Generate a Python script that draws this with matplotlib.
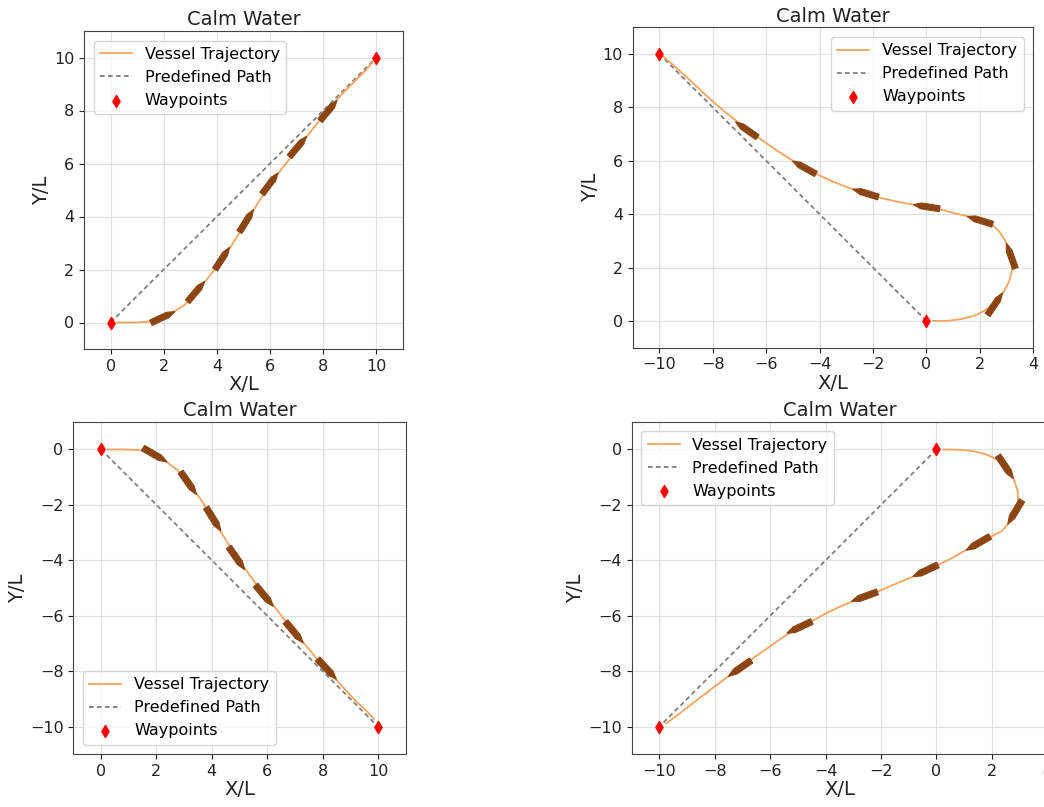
import numpy as np
import matplotlib
matplotlib.use("Agg")
import matplotlib.pyplot as plt
from matplotlib.patches import Polygon

# ---------------- data ----------------
# Panel 1 (top-left): (0,0) -> (10,10)
tl_wp_x = [0, 10]
tl_wp_y = [0, 10]
tl_traj_x = [0.25, 0.8, 1.3, 1.6, 2.0, 2.4, 2.8, 3.2, 3.6, 4.0, 4.4, 4.8, 5.2, 5.6, 6.0, 6.4, 6.8, 7.2, 7.6, 8.0, 8.4, 8.8, 9.2, 9.6, 9.85]
tl_traj_y = [0.0, 0.0, 0.02, 0.06, 0.22, 0.42, 0.68, 1.12, 1.6, 2.1, 2.68, 3.3, 3.95, 4.6, 5.22, 5.75, 6.25, 6.78, 7.3, 7.8, 8.28, 8.72, 9.12, 9.52, 9.82]
tl_ship_x = [1.97, 3.22, 4.2, 5.11, 6.0, 7.05, 8.2]
tl_ship_y = [0.2, 1.17, 2.42, 3.84, 5.25, 6.64, 8.0]
tl_ship_psi = [25, 50, 57, 58, 53, 50, 50]

# Panel 2 (top-right): (0,0) -> (-10,10)
tr_wp_x = [0, -10]
tr_wp_y = [0, 10]
tr_traj_x = [0.25, 0.8, 1.3, 1.8, 2.2, 2.6, 2.9, 3.1, 3.2, 3.2, 3.14, 2.98, 2.75, 2.5, 2.0, 1.5, 1.0, 0.5, 0.0, -0.5, -1.0, -1.5, -2.0, -2.5, -3.0, -3.5, -4.0, -4.5, -5.0, -5.5, -6.0, -6.5, -7.0, -7.5, -8.0, -8.5, -9.0, -9.5, -9.85]
tr_traj_y = [0.0, 0.01, 0.07, 0.2, 0.4, 0.7, 1.1, 1.5, 1.9, 2.2, 2.5, 2.95, 3.32, 3.58, 3.8, 3.93, 4.05, 4.18, 4.28, 4.36, 4.45, 4.56, 4.68, 4.84, 5.02, 5.22, 5.45, 5.72, 6.0, 6.32, 6.66, 7.02, 7.4, 7.8, 8.22, 8.68, 9.15, 9.6, 9.9]
tr_ship_x = [2.57, 3.16, 2.0, 0.0, -2.28, -4.58, -6.74]
tr_ship_y = [0.64, 2.44, 3.77, 4.28, 4.79, 5.75, 7.17]
tr_ship_psi = [56, 110, 163, 171, 163, 151, 145]

# Panel 3 (bottom-left): (0,0) -> (10,-10)
bl_wp_x = [0, 10]
bl_wp_y = [0, -10]
bl_traj_x = [0.25, 0.8, 1.3, 1.6, 2.0, 2.4, 2.8, 3.2, 3.6, 4.0, 4.4, 4.8, 5.2, 5.6, 6.0, 6.4, 6.8, 7.2, 7.6, 8.0, 8.4, 8.8, 9.2, 9.6, 9.85]
bl_traj_y = [0.0, 0.0, -0.02, -0.06, -0.24, -0.47, -0.78, -1.25, -1.8, -2.45, -3.1, -3.72, -4.3, -4.85, -5.35, -5.85, -6.38, -6.85, -7.32, -7.78, -8.22, -8.65, -9.08, -9.45, -9.72]
bl_ship_x = [1.95, 3.16, 4.06, 4.9, 5.9, 6.98, 8.16]
bl_ship_y = [-0.2, -1.22, -2.52, -3.93, -5.28, -6.6, -7.93]
bl_ship_psi = [-30, -55, -58, -55, -50, -50, -47]

# Panel 4 (bottom-right): (0,0) -> (-10,-10)
br_wp_x = [0, -10]
br_wp_y = [0, -10]
br_traj_x = [0.25, 0.8, 1.3, 1.8, 2.2, 2.55, 2.8, 2.93, 2.95, 2.85, 2.65, 2.35, 1.92, 1.5, 1.0, 0.5, 0.0, -0.5, -1.0, -1.5, -2.0, -2.5, -3.0, -3.5, -4.0, -4.5, -5.0, -5.5, -6.0, -6.5, -7.0, -7.5, -8.0, -8.5, -9.0, -9.5, -9.75]
br_traj_y = [0.0, -0.01, -0.06, -0.18, -0.38, -0.72, -1.1, -1.5, -1.85, -2.25, -2.62, -2.95, -3.17, -3.4, -3.67, -3.95, -4.2, -4.45, -4.65, -4.86, -5.08, -5.28, -5.47, -5.68, -5.92, -6.2, -6.45, -6.75, -7.1, -7.45, -7.82, -8.18, -8.55, -8.93, -9.32, -9.7, -9.88]
br_ship_x = [2.5, 2.83, 1.5, -0.4, -2.6, -4.95, -7.1]
br_ship_y = [-0.64, -2.27, -3.39, -4.38, -5.31, -6.42, -7.9]
br_ship_psi = [-56, -121, -150, -155, -160, -155, -145]

title = "Calm Water"
xlabel = "X/L"
ylabel = "Y/L"
labels = ["Vessel Trajectory", "Predefined Path", "Waypoints"]

# ---------------- style ----------------
TRAJ_C = "#f4a460"
SHIP_C = "#8b4513"
W, H = 1044, 807
fig = plt.figure(figsize=(W / 100, H / 100), dpi=100)


def rect(x0, y0, x1, y1):
    return [x0 / W, (H - y1) / H, (x1 - x0) / W, (y1 - y0) / H]


def ship_poly(cx, cy, psi_deg, L=1.0, B=0.22):
    body = np.array([[-0.5 * L, -0.5 * B], [0.2 * L, -0.5 * B], [0.5 * L, 0.0],
                     [0.2 * L, 0.5 * B], [-0.5 * L, 0.5 * B]])
    a = np.deg2rad(psi_deg)
    R = np.array([[np.cos(a), -np.sin(a)], [np.sin(a), np.cos(a)]])
    return body @ R.T + np.array([cx, cy])


def panel(r, tx, ty, sx, sy, spsi, wx, wy, xlim, ylim, xticks, yticks, legloc):
    ax = fig.add_axes(r)
    ax.plot(tx, ty, color=TRAJ_C, lw=1.3, label=labels[0], zorder=3)
    ax.plot(wx, wy, color="gray", ls=(0, (2.6, 1.8)), lw=1.3, label=labels[1], zorder=2)
    ax.scatter(wx, wy, color="red", marker="d", s=38, label=labels[2], zorder=5)
    for cx, cy, p in zip(sx, sy, spsi):
        ax.add_patch(Polygon(ship_poly(cx, cy, p), closed=True, fc=SHIP_C, ec=SHIP_C, lw=0.8, zorder=4))
    ax.set_xlim(*xlim)
    ax.set_ylim(*ylim)
    ax.set_xticks(xticks)
    ax.set_yticks(yticks)
    ax.grid(True, color="#d9d9d9", lw=0.8, alpha=0.8)
    ax.set_axisbelow(True)
    ax.tick_params(labelsize=11.5, colors="#222222")
    for s in ax.spines.values():
        s.set_color("#444444")
    ax.set_title(title, fontsize=14, color="#222222", pad=4)
    ax.set_xlabel(xlabel, fontsize=14, color="#222222", labelpad=1)
    ax.set_ylabel(ylabel, fontsize=14, color="#222222", labelpad=2)
    ax.legend(loc=legloc, fontsize=11.5, framealpha=0.8, borderaxespad=0.6)
    return ax


panel(rect(84, 31, 403, 349), tl_traj_x, tl_traj_y, tl_ship_x, tl_ship_y, tl_ship_psi,
      tl_wp_x, tl_wp_y, (-1, 11), (-1, 11), range(0, 11, 2), range(0, 11, 2), "upper left")
panel(rect(632.7, 27.3, 1033.3, 347.7), tr_traj_x, tr_traj_y, tr_ship_x, tr_ship_y, tr_ship_psi,
      tr_wp_x, tr_wp_y, (-11, 4), (-1, 11), range(-10, 5, 2), range(0, 11, 2), "upper right")
panel(rect(73.3, 421.7, 405.7, 754.3), bl_traj_x, bl_traj_y, bl_ship_x, bl_ship_y, bl_ship_psi,
      bl_wp_x, bl_wp_y, (-1, 11), (-11, 1), range(0, 11, 2), range(-10, 1, 2), "lower left")
panel(rect(631.7, 421.7, 1047.3, 754.3), br_traj_x, br_traj_y, br_ship_x, br_ship_y, br_ship_psi,
      br_wp_x, br_wp_y, (-11, 4), (-11, 1), range(-10, 5, 2), range(-10, 1, 2), "upper left")

fig.savefig("out.png", dpi=100)
